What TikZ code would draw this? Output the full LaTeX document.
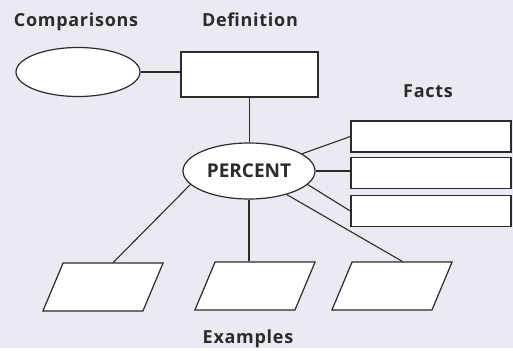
\documentclass[tikz,border=0pt]{standalone}
\usepackage{fontspec}
\setsansfont{Open Sans}
\newfontfamily\mapfont[LetterSpace=4]{Open Sans}
\usetikzlibrary{shapes.geometric}
\definecolor{mapbg}{HTML}{EBEAF3}
\definecolor{mapline}{HTML}{2B2B2B}
\newcommand{\MHead}{\mapfont\fontsize{18}{21}\selectfont\bfseries}
\newcommand{\MCore}{\sffamily\fontsize{19}{23}\selectfont\bfseries}

\begin{document}
\begin{tikzpicture}[x=1pt, y=-1pt,
  font=\sffamily,
  link/.style={draw=mapline, line width=1.1pt},
  oval/.style={ellipse, draw=mapline, line width=1.2pt, fill=white,
               inner sep=0pt},
  blank/.style={rectangle, draw=mapline, line width=1.4pt, fill=white,
                inner sep=0pt},
  example/.style={blank, line width=1.2pt, minimum width=100pt,
                  minimum height=48pt, xslant=0.42, transform shape},
  heading/.style={font=\MHead, text=mapline, anchor=base}
]
% Background (pixel units, y downwards).
\fill[mapbg] (0,0) rectangle (513,348);

% Headings.
\node[heading] (hcomp) at (76,26) {Comparisons};
\node[heading] (hdef) at (250,26) {Definition};
\node[heading] (hfacts) at (428,97) {Facts};
\node[heading] (hex) at (248,343) {Examples};

% Top row and centre.
\node[oval, minimum width=124pt, minimum height=49pt] (comp) at (78,72) {};
\node[blank, minimum width=137pt, minimum height=45pt] (def) at (249.5,74.5) {};
\node[oval, minimum width=132pt, minimum height=56pt, font=\MCore,
      text=mapline] (percent) at (249,171) {PERCENT};

% Facts, stacked on the right.
\foreach \y [count=\i] in {136.5,173,211}
  \node[blank, minimum width=160pt, minimum height=31pt] (fact\i) at (431,\y) {};

% Examples along the bottom.
\node[example] (ex1) at (103,287) {};
\node[example] (ex2) at (255,286) {};
\node[example] (ex3) at (392,286) {};

% Links.
\draw[link] (comp.east) -- (comp.east -| def.west);
\draw[link] (def.south) -- (def.south |- percent.north);
\draw[link] (percent.18) -- (fact1.west);
\draw[link] (percent.east) -- (percent.east -| fact2.west);
\draw[link] (percent.-13) -- (fact3.west);
\draw[link] (percent.193) -- (ex1.north);
\draw[link] (percent.south) -- (percent.south |- ex2.north);
\draw[link] (percent.-32) -- (ex3.north);
\end{tikzpicture}
\end{document}
